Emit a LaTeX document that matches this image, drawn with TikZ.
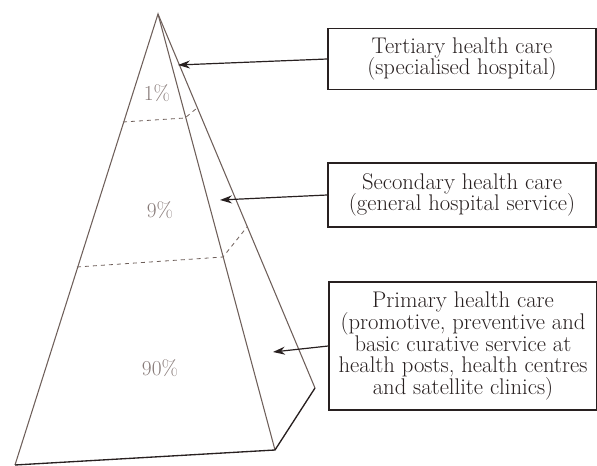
\documentclass[tikz,border=0pt]{standalone}
\usepackage{tikz}
\usetikzlibrary{arrows.meta}
\definecolor{edgebrown}{RGB}{110,95,90}
\definecolor{inkdark}{RGB}{40,32,32}
\definecolor{pctgray}{RGB}{135,122,120}
\tikzset{
  carebox/.style={draw=inkdark, line width=1pt, align=center, text=inkdark, minimum width=201pt, inner sep=1pt, font=\fontsize{17}{16.2}\selectfont},
  pct/.style={text=pctgray, font=\fontsize{16}{18}\selectfont},
  face/.style={draw=edgebrown, line width=0.8pt},
  base/.style={draw=inkdark, line width=1pt},
  level/.style={draw=edgebrown, dashed, line width=0.6pt},
  pointer/.style={draw=inkdark, line width=0.9pt, -{Stealth[length=9pt,width=6pt]}}
}
\begin{document}
\begin{tikzpicture}[x=0.75pt,y=-0.75pt]
\useasboundingbox (0,0) rectangle (597,466);

\coordinate (apex) at (158,14);
\coordinate (bl) at (15,465);
\coordinate (br) at (275,450);
\coordinate (bb) at (315,388);
\draw[face] (br) -- (apex) -- (bl);
\draw[face] (apex) -- (bb);
\draw[base] (bl) -- (br) -- (bb);
\draw[level] (123,122) -- (185,118) -- (197,108);
\draw[level] (77,267) -- (223,257) -- (247,227);

\node[pct] (p1) at (157,93) {1\%};
\node[pct] (p9) at (160,210) {9\%};
\node[pct] (p90) at (160,368) {90\%};

\node[carebox, minimum height=46pt] (tertiary) at (462,59) {Tertiary health care\\(specialised hospital)};
\node[carebox, minimum height=48pt] (secondary) at (462,195) {Secondary health care\\(general hospital service)};
\node[carebox, minimum height=96pt] (primary) at (463,346) {Primary health care\\(promotive, preventive and\\basic curative service at\\health posts, health centres\\and satellite clinics)};

\coordinate (t1) at (178,65);
\coordinate (t2) at (220,200);
\coordinate (t3) at (273,352);
\draw[pointer] (tertiary.west) -- (t1);
\draw[pointer] (secondary.west) -- (t2);
\draw[pointer] (primary.west) -- (t3);
\end{tikzpicture}
\end{document}
